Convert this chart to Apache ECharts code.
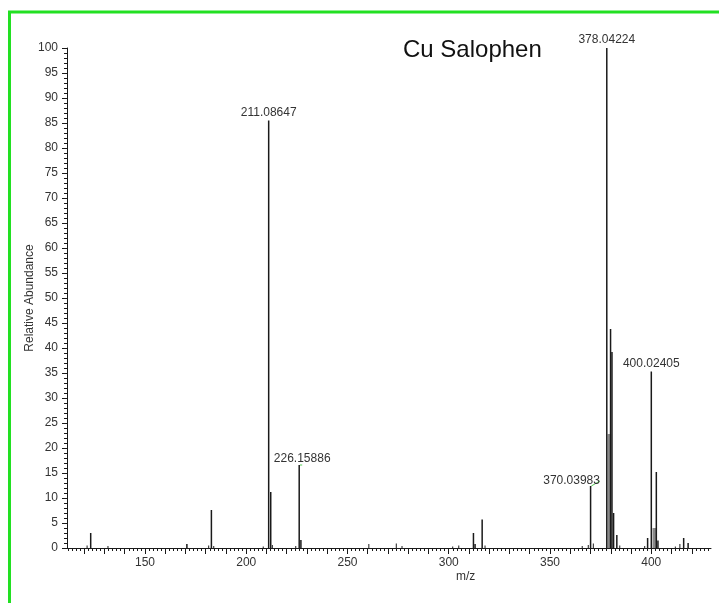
<!DOCTYPE html>
<html>
<head>
<meta charset="utf-8">
<script src="https://cdn.jsdelivr.net/npm/echarts@6/dist/echarts.min.js"></script>
<style>
  html, body { margin: 0; padding: 0; background: #fff; }
  #chart { width: 719px; height: 603px; }
</style>
</head>
<body>
<div id="chart"></div>
<script>
// labelled peaks (m/z, relative abundance)
var labelMz = [211.08647, 226.15886, 370.03983, 378.04224, 400.02405];
var labelInt = [85.5, 16.6, 12.4, 100, 35.3];

// other centroid peaks
var peakMz = [123.2, 170.7, 182.8, 212.1, 227.0, 312.2, 313.0, 316.5, 379.9, 380.6, 381.4, 383.0, 398.2, 402.5, 403.3, 416.0, 418.2];
var peakInt = [3.0, 0.8, 7.6, 11.2, 1.6, 3.0, 0.8, 5.7, 43.8, 39.2, 7.0, 2.6, 2.0, 15.2, 1.5, 2.0, 1.0];

// grey profile shoulders
var profMz = [378.8, 401.0];
var profInt = [22.8, 4.0];

// baseline noise
var noiseMz = [121.5, 131.8, 181.5, 184.0, 208.5, 213.0, 224.5, 260.6, 274.2, 277.0, 302.0, 305.0, 318.0, 366.0, 369.0, 371.5, 384.5, 396.8, 412.0, 414.2];
var noiseInt = [0.5, 0.4, 0.5, 0.4, 0.3, 0.6, 0.4, 0.8, 0.9, 0.4, 0.3, 0.5, 0.5, 0.4, 0.6, 0.9, 0.5, 0.4, 0.3, 0.8];

var xLabels = [150, 200, 250, 300, 350, 400];

var xMin = 111.5, xMax = 429.5;
var FONT = '"Liberation Sans", Arial, sans-serif';

function pairs(xs, ys) {
  return xs.map(function (x, i) { return [x, ys[i]]; });
}

// tick positions on m/z axis
var smallTicks = [], bigTicks = [];
for (var t = 112; t <= 428; t += 2) smallTicks.push(t);
for (var t2 = 120; t2 <= 420; t2 += 10) bigTicks.push(t2);

// where the labels were dragged in the original
var labelMoves = [[0, 0], [3, 2], [-19, 3], [0, 0], [0, 0]];

var chart = echarts.init(document.getElementById('chart'));

var option = {
  backgroundColor: '#fff',
  animation: false,
  textStyle: { fontFamily: FONT },
  grid: { left: 67, right: 8, top: 48, bottom: 55 },
  xAxis: [{
    type: 'value',
    min: xMin,
    max: xMax,
    position: 'bottom',
    axisLine: { show: true, lineStyle: { color: '#1a1a1a', width: 1 } },
    axisTick: { show: true, customValues: smallTicks, length: 3, lineStyle: { color: '#1a1a1a' } },
    axisLabel: { customValues: xLabels, color: '#333', fontSize: 12, margin: 9, fontFamily: FONT },
    splitLine: { show: false }
  }, {
    type: 'value',
    min: xMin,
    max: xMax,
    position: 'bottom',
    axisLine: { show: false },
    axisTick: { show: true, customValues: bigTicks, length: 6, lineStyle: { color: '#1a1a1a' } },
    axisLabel: { show: false },
    splitLine: { show: false }
  }],
  yAxis: {
    type: 'value',
    min: 0,
    max: 100,
    interval: 5,
    name: 'Relative Abundance',
    nameLocation: 'middle',
    nameGap: 31,
    nameMoveOverlap: false,
    nameTextStyle: { color: '#333', fontSize: 12, fontFamily: FONT },
    axisLine: { show: true, lineStyle: { color: '#1a1a1a', width: 1 } },
    axisTick: { show: true, length: 5, lineStyle: { color: '#1a1a1a' } },
    minorTick: { show: true, splitNumber: 5, length: 3, lineStyle: { color: '#1a1a1a' } },
    axisLabel: { color: '#333', fontSize: 12, margin: 9, fontFamily: FONT },
    splitLine: { show: false }
  },
  graphic: [
    {
      type: 'rect',
      shape: { x: 9.5, y: 12, width: 760, height: 660 },
      style: { fill: 'none', stroke: '#22e022', lineWidth: 3 },
      silent: true
    },
    {
      type: 'text',
      left: 403,
      top: 38,
      style: { text: 'Cu Salophen', font: '24px ' + FONT, fill: '#111' }
    },
    {
      type: 'text',
      left: 456,
      top: 571,
      style: { text: 'm/z', font: '12px ' + FONT, fill: '#333' }
    }
  ],
  series: [
    {
      type: 'bar',
      name: 'noise',
      barWidth: 1.2,
      barGap: '-100%',
      itemStyle: { color: '#444' },
      data: pairs(noiseMz, noiseInt)
    },
    {
      type: 'bar',
      name: 'profile',
      barWidth: 3.5,
      barGap: '-100%',
      itemStyle: { color: '#8a8a8a' },
      data: pairs(profMz, profInt)
    },
    {
      type: 'bar',
      name: 'peaks',
      barWidth: 1.5,
      barGap: '-100%',
      itemStyle: { color: '#1a1a1a' },
      data: pairs(peakMz, peakInt)
    },
    {
      type: 'bar',
      name: 'labelled',
      barWidth: 1.5,
      barGap: '-100%',
      itemStyle: { color: '#1a1a1a' },
      label: {
        show: true,
        position: 'top',
        distance: 2,
        color: '#333',
        fontSize: 12,
        fontFamily: FONT,
        formatter: function (p) { return p.value[0].toFixed(5); }
      },
      labelLayout: function (p) {
        var m = labelMoves[p.dataIndex];
        return { dx: m[0], dy: m[1] };
      },
      data: pairs(labelMz, labelInt).map(function (v, i) {
        var moved = labelMoves[i][0] !== 0;
        return {
          value: v,
          labelLine: { show: moved, lineStyle: { color: '#55cc55', width: 1 } }
        };
      })
    }
  ]
};

chart.setOption(option);
</script>
</body>
</html>
